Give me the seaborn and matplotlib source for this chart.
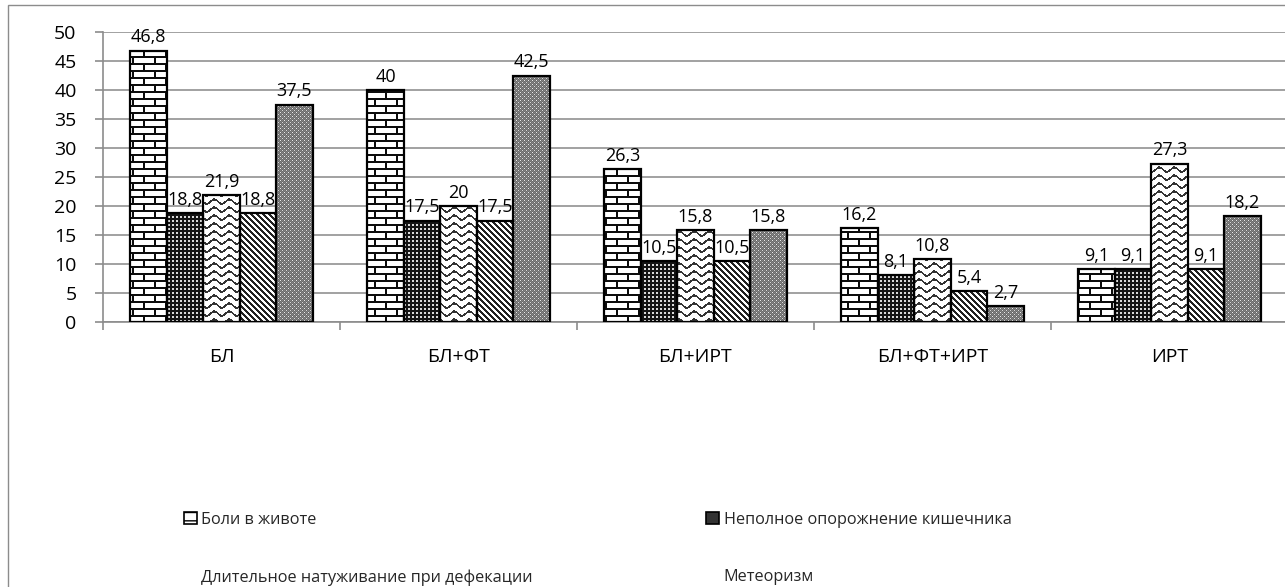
import numpy as np
import pandas as pd
import matplotlib
matplotlib.use("Agg")
import matplotlib.pyplot as plt
import seaborn as sns
from matplotlib.path import Path
from matplotlib.patches import Patch, Rectangle
from matplotlib.image import AxesImage
from matplotlib.transforms import IdentityTransform

# ---- data -------------------------------------------------------------
groups = ["БЛ", "БЛ+ФТ", "БЛ+ИРТ", "БЛ+ФТ+ИРТ", "ИРТ"]
legend_names = [
    "Боли в животе",
    "Неполное опорожнение кишечника",
    "Длительное натуживание при дефекации",
    "Метеоризм",
]
pain = [46.8, 40.0, 26.3, 16.2, 9.1]
incomplete = [18.8, 17.5, 10.5, 8.1, 9.1]
straining = [21.9, 20.0, 15.8, 10.8, 27.3]
bloating = [18.8, 17.5, 10.5, 5.4, 9.1]
fifth = [37.5, 42.5, 15.8, 2.7, 18.2]
y_ticks = list(range(0, 51, 5))

values = [pain, incomplete, straining, bloating, fifth]
df = pd.DataFrame(
    [(g, k, v) for k, vals in enumerate(values) for g, v in zip(groups, vals)],
    columns=["group", "series", "value"],
)

# ---- figure -----------------------------------------------------------
W, H, DPI = 1285, 587, 100
sns.set_style("white")
plt.rcParams["font.family"] = ["Open Sans", "DejaVu Sans"]

fig = plt.figure(figsize=(W / DPI, H / DPI), dpi=DPI)
ax = fig.add_axes([103 / W, 1 - 322 / H, 1185 / W, 290 / H])

sns.barplot(
    data=df, x="group", y="value", hue="series",
    order=groups, hue_order=list(range(len(values))),
    palette=["white"] * len(values), saturation=1, width=0.77,
    edgecolor="black", linewidth=1.6, legend=False, ax=ax,
)

ax.set_xlim(-0.5, len(groups) - 0.5)
ax.set_ylim(0, 50)
ax.set_yticks(y_ticks)
ax.set_xlabel("")
ax.set_ylabel("")
ax.set_axisbelow(True)
ax.yaxis.grid(True, color="#9a9a9a", linewidth=1.3)
ax.xaxis.grid(False)
for side in ["top", "right"]:
    ax.spines[side].set_visible(False)
for side in ["left", "bottom"]:
    ax.spines[side].set_color("#8c8c8c")
    ax.spines[side].set_linewidth(1.2)

ax.tick_params(axis="y", which="major", left=True, length=6, width=1.2,
               color="#8c8c8c", labelsize=14, pad=13, labelcolor="black")
ax.tick_params(axis="x", which="major", bottom=False, length=0,
               labelsize=14, pad=19, labelcolor="black")
ax.set_xticks(np.arange(-0.5, len(groups), 1.0), minor=True)
ax.tick_params(axis="x", which="minor", bottom=True, length=6, width=1.2,
               color="#8c8c8c")

# ---- fill textures (display-pixel patterns clipped to each series' bars) ----
r, c = np.mgrid[0:H, 0:W]


def two_tone(mask, dark, light):
    dark = np.array(dark, dtype=float)
    light = np.array(light, dtype=float)
    return np.where(mask[..., None], dark, light)


# bricks
row = r // 7
brick = ((r % 7) < 2) | (((c + (row % 2) * 11) % 22) < 2)
tex_brick = two_tone(brick, (0.05, 0.05, 0.05), (1, 1, 1))

# dense dark grid with light dots
dots = (r % 4 < 2) & (c % 4 < 2)
tex_dots = two_tone(~dots, (0.08, 0.08, 0.08), (0.85, 0.85, 0.85))

# horizontal waves
off = 2.2 * np.sin(2 * np.pi * c / 15.0)
wave = ((r + off) % 8) < 2.2
tex_wave = two_tone(wave, (0.2, 0.2, 0.2), (1, 1, 1))

# diagonal stripes
diag = ((c - r) % 6) < 3
tex_diag = two_tone(diag, (0.13, 0.13, 0.13), (1, 1, 1))

# fine gray checker
g = np.full((H, W), 0.52)
g[((r + c) % 2) == 1] = 0.42
g[(r % 4 == 0) & (c % 4 == 0)] = 0.92
g[(r % 4 == 2) & (c % 4 == 2)] = 0.85
tex_gray = np.repeat(g[..., None], 3, axis=2)

textures = [tex_brick, tex_dots, tex_wave, tex_diag, tex_gray]

for container, tex in zip(ax.containers, textures):
    verts, codes = [], []
    for p in container:
        x0, y0 = p.get_xy()
        w, h = p.get_width(), p.get_height()
        verts += [(x0, y0), (x0 + w, y0), (x0 + w, y0 + h), (x0, y0 + h), (x0, y0)]
        codes += [Path.MOVETO, Path.LINETO, Path.LINETO, Path.LINETO, Path.CLOSEPOLY]
        p.set_facecolor("none")
        p.set_zorder(3)
    im = AxesImage(ax, interpolation="nearest", origin="upper", extent=(0, W, 0, H))
    im.set_data(tex)
    im.set_transform(IdentityTransform())
    im.set_zorder(2)
    im.set_clip_path(Path(verts, codes), ax.transData)
    ax.add_image(im)

# value labels
for container, vals in zip(ax.containers, values):
    ax.bar_label(container, labels=[f"{v:g}".replace(".", ",") for v in vals],
                 padding=3, fontsize=13, color="black", zorder=4)

# ---- legend -----------------------------------------------------------
handles = [
    Patch(facecolor="white", edgecolor="black", linewidth=1.2, hatch="--"),
    Patch(facecolor="none", edgecolor="none"),
    Patch(facecolor="#333333", edgecolor="black", linewidth=1.2),
    Patch(facecolor="none", edgecolor="none"),
]
labels = [legend_names[0], legend_names[2], legend_names[1], legend_names[3]]
fig.legend(handles, labels, loc="upper left",
           bbox_to_anchor=(184 / W, 1 - 512 / H), ncol=2, frameon=False,
           fontsize=11.7, handlelength=0.8, handleheight=0.75,
           handletextpad=0.25, columnspacing=10.7, labelspacing=2.55,
           borderpad=0, borderaxespad=0)

# chart frame
fig.patches.append(Rectangle((8 / W, -0.05), 1.2, 1 - 5 / H + 0.05,
                             transform=fig.transFigure, fill=False,
                             edgecolor="#8c8c8c", linewidth=1.0))

fig.savefig("out.png", dpi=DPI)
